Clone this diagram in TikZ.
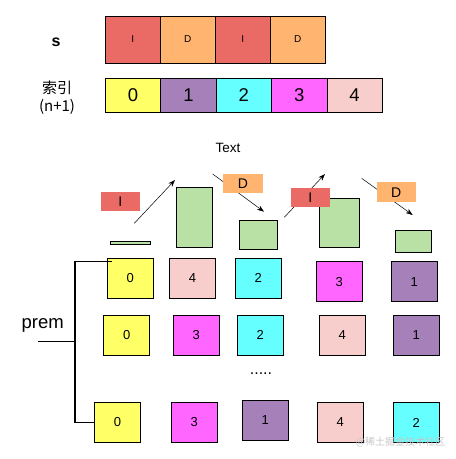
\documentclass[tikz,border=0pt]{standalone}
\usepackage{fontspec}
\setmainfont{Liberation Sans}
\newfontfamily\cjk{Noto Sans CJK SC}
\usetikzlibrary{arrows.meta}

\definecolor{opI}{HTML}{EA6B66}
\definecolor{opD}{HTML}{FFB570}
\definecolor{idxyellow}{HTML}{FFFF66}
\definecolor{idxpurple}{HTML}{A680B8}
\definecolor{idxcyan}{HTML}{66FFFF}
\definecolor{idxmagenta}{HTML}{FF66FF}
\definecolor{idxpink}{HTML}{F8CECC}
\definecolor{barfill}{HTML}{B9E0A5}

\tikzset{
  scell/.style={draw, line width=0.7pt, inner sep=0pt, minimum width=55pt, minimum height=47pt, font=\fontsize{10}{11}\selectfont},
  icell/.style={draw, line width=0.7pt, inner sep=0pt, minimum width=55.4pt, minimum height=33.3pt, font=\fontsize{18.5}{20}\selectfont},
  pcell/.style={draw, line width=0.7pt, inner sep=0pt, minimum width=46pt, minimum height=40pt, font=\fontsize{13}{14}\selectfont},
  bar/.style={draw, line width=0.7pt, fill=barfill, inner sep=0pt},
  oplabel/.style={inner sep=0pt, minimum width=39.3pt, minimum height=19.5pt, font=\fontsize{14}{15}\selectfont},
  move/.style={-{Stealth[length=7pt,width=5pt]}, line width=0.5pt},
}

\begin{document}
\begin{tikzpicture}[x=1pt, y=-1pt]
  \useasboundingbox (0,0) rectangle (456,459);

  % string s
  \node[font=\fontsize{16}{18}\selectfont\bfseries] (slabel) at (56,42) {s};
  \node[scell, fill=opI] (s1) at (132.8,39.5) {I};
  \node[scell, fill=opD] (s2) at (187.8,39.5) {D};
  \node[scell, fill=opI] (s3) at (242.8,39.5) {I};
  \node[scell, fill=opD] (s4) at (297.8,39.5) {D};

  % index row
  \node[font=\cjk\fontsize{15}{18}\selectfont, align=center] (idxlabel) at (57,98) {索引\\(n+1)};
  \node[icell, fill=idxyellow] (i0) at (133.0,95.3) {0};
  \node[icell, fill=idxpurple] (i1) at (188.4,95.3) {1};
  \node[icell, fill=idxcyan] (i2) at (243.8,95.3) {2};
  \node[icell, fill=idxmagenta] (i3) at (299.2,95.3) {3};
  \node[icell, fill=idxpink] (i4) at (354.6,95.3) {4};

  % up / down moves
  \node[font=\fontsize{13.5}{15}\selectfont] (title) at (228,148) {Text};
  \coordinate (m1a) at (134.3,223.3); \coordinate (m1b) at (175,180);
  \coordinate (m2a) at (212.7,174);   \coordinate (m2b) at (264,211.7);
  \coordinate (m3a) at (284.3,217.3); \coordinate (m3b) at (325,174);
  \coordinate (m4a) at (361.7,178.3); \coordinate (m4b) at (412.7,215);
  \draw[move] (m1a) -- (m1b);
  \draw[move] (m2a) -- (m2b);
  \draw[move] (m3a) -- (m3b);
  \draw[move] (m4a) -- (m4b);

  \node[bar, minimum width=39.3pt, minimum height=3pt] (b1) at (130.3,242.8) {};
  \node[bar, minimum width=36.4pt, minimum height=60pt] (b2) at (194.5,217.3) {};
  \node[bar, minimum width=38.4pt, minimum height=29pt] (b3) at (258.5,234.5) {};
  \node[bar, minimum width=40pt, minimum height=49pt] (b4) at (339.3,222.8) {};
  \node[bar, minimum width=36pt, minimum height=22.3pt] (b5) at (413.7,241.2) {};

  \node[oplabel, fill=opI] (op1) at (120.3,201.3) {I};
  \node[oplabel, fill=opD] (op2) at (243,183.3) {D};
  \node[oplabel, fill=opI] (op3) at (310.3,197.3) {I};
  \node[oplabel, fill=opD] (op4) at (396.3,192.2) {D};

  % permutations
  \node[pcell, fill=idxyellow] (r1c1) at (130.3,278.3) {0};
  \node[pcell, fill=idxpink] (r1c2) at (192.5,278.3) {4};
  \node[pcell, fill=idxcyan] (r1c3) at (258.2,278.3) {2};
  \node[pcell, fill=idxmagenta] (r1c4) at (339.3,281.7) {3};
  \node[pcell, fill=idxpurple] (r1c5) at (414.3,281.7) {1};

  \node[pcell, fill=idxyellow] (r2c1) at (126.8,335.3) {0};
  \node[pcell, fill=idxmagenta] (r2c2) at (196.3,335.3) {3};
  \node[pcell, fill=idxcyan] (r2c3) at (260.3,335.3) {2};
  \node[pcell, fill=idxpink] (r2c4) at (342.3,335.3) {4};
  \node[pcell, fill=idxpurple] (r2c5) at (416.3,335.3) {1};

  \node[font=\fontsize{16}{17}\selectfont] (dots) at (261,374) {.....};

  \node[pcell, fill=idxyellow] (r3c1) at (117.5,422.5) {0};
  \node[pcell, fill=idxmagenta] (r3c2) at (194.3,422.5) {3};
  \node[pcell, fill=idxpurple] (r3c3) at (265.3,420.3) {1};
  \node[pcell, fill=idxpink] (r3c4) at (340.3,422.5) {4};
  \node[pcell, fill=idxcyan] (r3c5) at (416.3,422.5) {2};

  % bracket
  \node[font=\fontsize{18.5}{20}\selectfont] (prem) at (42.7,325) {prem};
  \coordinate (stem) at (38.3,341.7);
  \coordinate (fork) at (75,341.7);
  \coordinate (top) at (111.7,261.7);
  \draw[line width=1.3pt] (stem) -- (fork);
  \draw[line width=1.3pt] (top) -| (fork) |- (r3c1.west);

  \node[font=\cjk\fontsize{10}{11}\selectfont, text=gray!45] (mark) at (400.5,442) {@稀土掘金技术社区};
\end{tikzpicture}
\end{document}
